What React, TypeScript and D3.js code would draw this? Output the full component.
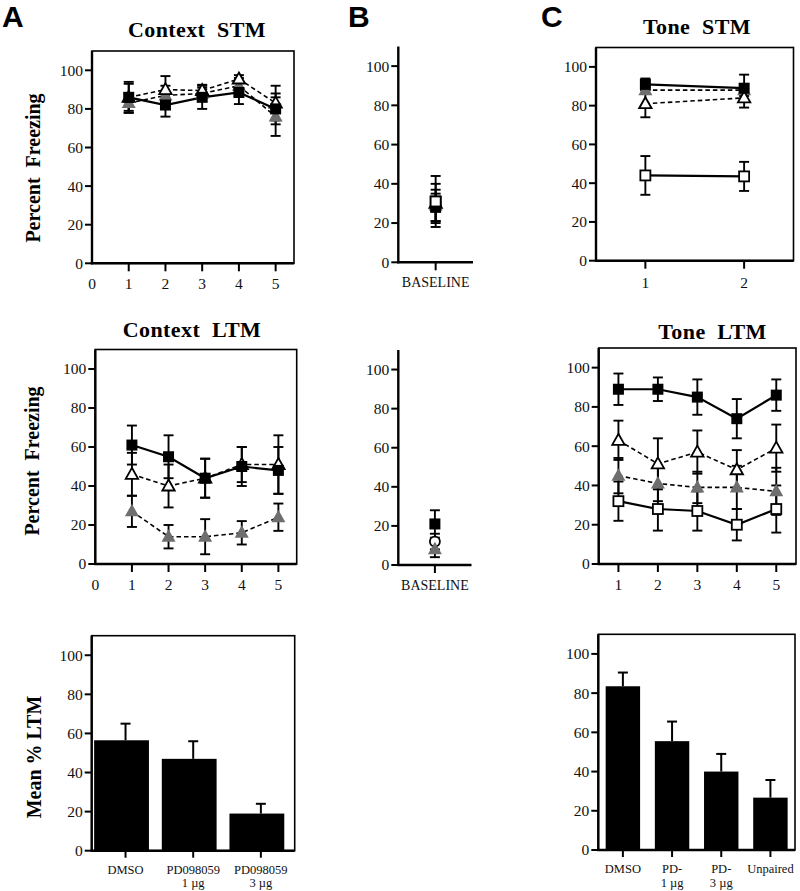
import React from 'react';
import * as d3 from 'd3';

// ---------------- data ----------------
const yTickValues = [0, 20, 40, 60, 80, 100];
const sessionX = [1, 2, 3, 4, 5];
const contextXTicks = [0, 1, 2, 3, 4, 5];
const toneStmX = [1, 2];
const toneLtmXTicks = [1, 2, 3, 4, 5];
const baselineX = [1];

// Context STM
const ctxStmDmso = [86, 82, 86, 88.5, 80];
const ctxStmDmsoErr = [8, 6, 6, 6, 8];
const ctxStmPd1 = [86, 90, 89.5, 95.5, 83];
const ctxStmPd1Err = [7, 7, 3, 2, 9];
const ctxStmPd3 = [83, 87, 88, 92, 76];
const ctxStmPd3Err = [5, 5, 3, 4, 10];

// Baseline (STM)
const baseStmDmso = [28];
const baseStmDmsoErr = [7];
const baseStmPd1 = [30];
const baseStmPd1Err = [10];
const baseStmPd3 = [29];
const baseStmPd3Err = [8];
const baseStmUnp = [31];
const baseStmUnpErr = [13];

// Tone STM
const toneStmDmso = [91, 89];
const toneStmDmsoErr = [3, 7];
const toneStmPd1 = [81, 84];
const toneStmPd1Err = [7, 5];
const toneStmPd3 = [88, 88];
const toneStmPd3Err = [2, 3];
const toneStmUnp = [44, 43.5];
const toneStmUnpErr = [10, 7.5];

// Context LTM
const ctxLtmDmso = [61, 55, 44, 50, 48];
const ctxLtmDmsoErr = [10, 11, 10, 10, 12];
const ctxLtmPd1 = [46, 40, 44, 51, 51];
const ctxLtmPd1Err = [11, 11, 10, 9, 15];
const ctxLtmPd3 = [27, 14, 14, 16, 24];
const ctxLtmPd3Err = [8, 6, 9, 6, 7];

// Baseline (LTM)
const baseLtmDmso = [21];
const baseLtmDmsoErr = [7];
const baseLtmPd1 = [12];
const baseLtmPd1Err = [4];
const baseLtmPd3 = [8];
const baseLtmPd3Err = [4];

// Tone LTM
const toneLtmDmso = [89, 89, 85, 74, 86];
const toneLtmDmsoErr = [8, 6, 9, 10, 8];
const toneLtmPd1 = [63, 51, 57, 48, 59];
const toneLtmPd1Err = [10, 13, 11, 10, 12];
const toneLtmPd3 = [45, 41, 39, 39, 37];
const toneLtmPd3Err = [9, 9, 8, 11, 12];
const toneLtmUnp = [32, 28, 27, 20, 28];
const toneLtmUnpErr = [10, 11, 10, 8, 12];

// Mean LTM bars
const ctxBarLabels = ['DMSO', 'PD098059\n1 µg', 'PD098059\n3 µg'];
const ctxBarValues = [56.5, 47, 19];
const ctxBarErr = [8.5, 9, 5];
const toneBarLabels = ['DMSO', 'PD-\n1 µg', 'PD-\n3 µg', 'Unpaired'];
const toneBarValues = [83.5, 55.5, 40, 26.7];
const toneBarErr = [7, 10, 9, 9];

// ---------------- drawing ----------------
const GRAY = '#6e6e6e';
const SERIF = '"Liberation Serif", "Times New Roman", Times, serif';
const SANS = '"Liberation Sans", Arial, Helvetica, sans-serif';

type Series = { shape: string; dashed?: boolean; xs: number[]; ys: number[]; es: number[] };

function Marker({ shape, cx, cy }: { shape: string; cx: number; cy: number }) {
  if (shape === 'fsq') return <rect x={cx - 5.5} y={cy - 5.5} width={11} height={11} fill="#000" />;
  if (shape === 'osq')
    return <rect x={cx - 5} y={cy - 5} width={10} height={10} fill="#fff" stroke="#000" strokeWidth={1.8} />;
  if (shape === 'otri')
    return (
      <path
        d={`M${cx},${cy - 6.5}L${cx + 6.2},${cy + 4.5}L${cx - 6.2},${cy + 4.5}Z`}
        fill="#fff"
        stroke="#000"
        strokeWidth={1.8}
      />
    );
  if (shape === 'gtri')
    return <path d={`M${cx},${cy - 7.5}L${cx + 7},${cy + 5}L${cx - 7},${cy + 5}Z`} fill={GRAY} />;
  return <circle cx={cx} cy={cy} r={5} fill="#fff" stroke="#000" strokeWidth={1.8} />;
}

function YTicks({ y, left }: { y: d3.ScaleLinear<number, number>; left: number }) {
  return (
    <g>
      {yTickValues.map((v) => (
        <g key={v}>
          <line x1={left - 7} x2={left} y1={y(v)} y2={y(v)} stroke="#000" strokeWidth={2} />
          <text
            x={left - 9}
            y={y(v)}
            dy="0.35em"
            textAnchor="end"
            fontFamily={SERIF}
            fontSize={15.5}
            fill="#111"
          >
            {v}
          </text>
        </g>
      ))}
    </g>
  );
}

function Title({ x, y, text }: { x: number; y: number; text: string }) {
  return (
    <text
      x={x}
      y={y}
      textAnchor="middle"
      fontFamily={SERIF}
      fontWeight="bold"
      fontSize={22}
      letterSpacing={0.4}
      style={{ whiteSpace: 'pre' }}
      fill="#000"
    >
      {text}
    </text>
  );
}

function YLabel({ x, y, text }: { x: number; y: number; text: string }) {
  return (
    <text
      transform={`translate(${x},${y}) rotate(-90)`}
      textAnchor="middle"
      fontFamily={SERIF}
      fontWeight="bold"
      fontSize={20}
      style={{ whiteSpace: 'pre' }}
      fill="#000"
    >
      {text}
    </text>
  );
}

type LineProps = {
  left: number;
  right: number;
  y0: number;
  y110: number;
  xDomain: [number, number];
  xTicks: number[];
  xLabels: string[];
  boxed: boolean;
  series: Series[];
  labelSize?: number;
  labelOffset?: number;
};

function LinePanel(p: LineProps) {
  const x = d3.scaleLinear().domain(p.xDomain).range([p.left, p.right]);
  const y = d3.scaleLinear().domain([0, 110]).range([p.y0, p.y110]);
  return (
    <g>
      {p.series.map((s, i) => {
        const line = d3
          .line<number>()
          .x((_, j) => x(s.xs[j]))
          .y((d) => y(d));
        return (
          <path
            key={'l' + i}
            d={line(s.ys) || ''}
            fill="none"
            stroke="#000"
            strokeWidth={s.dashed ? 1.6 : 2.2}
            strokeDasharray={s.dashed ? '4.5,3' : undefined}
          />
        );
      })}
      {p.series.map((s, i) =>
        s.ys.map((v, j) => {
          const cx = x(s.xs[j]);
          const yt = y(v + s.es[j]);
          const yb = y(v - s.es[j]);
          return (
            <g key={'e' + i + '-' + j} stroke="#000" strokeWidth={1.9}>
              <line x1={cx} x2={cx} y1={yt} y2={yb} />
              <line x1={cx - 5} x2={cx + 5} y1={yt} y2={yt} />
              <line x1={cx - 5} x2={cx + 5} y1={yb} y2={yb} />
            </g>
          );
        })
      )}
      {p.series.map((s, i) =>
        s.ys.map((v, j) => <Marker key={'m' + i + '-' + j} shape={s.shape} cx={x(s.xs[j])} cy={y(v)} />)
      )}
      {p.boxed && (
        <rect
          x={p.left}
          y={p.y110}
          width={p.right - p.left}
          height={p.y0 - p.y110}
          fill="none"
          stroke="#000"
          strokeWidth={1.6}
        />
      )}
      <line x1={p.left} x2={p.left} y1={p.y0 + 1} y2={p.y110} stroke="#000" strokeWidth={2.4} />
      <line x1={p.left - 1} x2={p.right} y1={p.y0} y2={p.y0} stroke="#000" strokeWidth={2.4} />
      <YTicks y={y} left={p.left} />
      {p.xTicks.map((t, i) => (
        <g key={'xt' + i}>
          {t !== p.xDomain[0] && (
            <line x1={x(t)} x2={x(t)} y1={p.y0} y2={p.y0 + 8} stroke="#000" strokeWidth={2} />
          )}
          <text
            x={x(t)}
            y={p.y0 + (p.labelOffset ?? 26)}
            textAnchor="middle"
            fontFamily={SERIF}
            fontSize={p.labelSize ?? 15.5}
            fill="#111"
          >
            {p.xLabels[i]}
          </text>
        </g>
      ))}
    </g>
  );
}

type BarProps = {
  left: number;
  right: number;
  y0: number;
  y110: number;
  labels: string[];
  values: number[];
  errs: number[];
  padInner: number;
  shift: number;
  labelOffset: number;
};

function BarPanel(p: BarProps) {
  const x = d3
    .scaleBand<string>()
    .domain(p.labels)
    .range([p.left, p.right])
    .paddingInner(p.padInner)
    .paddingOuter(p.padInner / 2);
  const y = d3.scaleLinear().domain([0, 110]).range([p.y0, p.y110]);
  const bw = x.bandwidth();
  return (
    <g>
      {p.labels.map((c, i) => {
        const cx = (x(c) as number) + bw / 2;
        const top = y(p.values[i]);
        const et = y(p.values[i] + p.errs[i]);
        return (
          <g key={c}>
            <line x1={cx} x2={cx} y1={top} y2={et} stroke="#000" strokeWidth={2} />
            <line x1={cx - 5} x2={cx + 5} y1={et} y2={et} stroke="#000" strokeWidth={2} />
            <rect x={(x(c) as number) + p.shift} y={top} width={bw} height={p.y0 - top} fill="#000" />
            <line x1={cx} x2={cx} y1={p.y0} y2={p.y0 + 7} stroke="#000" strokeWidth={2} />
            <text textAnchor="middle" fontFamily={SERIF} fontSize={12.5} fill="#111">
              {c.split('\n').map((ln, k) => (
                <tspan key={k} x={cx} y={p.y0 + p.labelOffset + k * 13.5}>
                  {ln}
                </tspan>
              ))}
            </text>
          </g>
        );
      })}
      <rect
        x={p.left}
        y={p.y110}
        width={p.right - p.left}
        height={p.y0 - p.y110}
        fill="none"
        stroke="#000"
        strokeWidth={1.6}
      />
      <line x1={p.left} x2={p.left} y1={p.y0 + 1} y2={p.y110} stroke="#000" strokeWidth={2.4} />
      <line x1={p.left - 1} x2={p.right} y1={p.y0} y2={p.y0} stroke="#000" strokeWidth={2.4} />
      <YTicks y={y} left={p.left} />
    </g>
  );
}

function PanelLetter({ x, y, text }: { x: number; y: number; text: string }) {
  return (
    <text x={x} y={y} fontFamily={SANS} fontWeight="bold" fontSize={30} fill="#000">
      {text}
    </text>
  );
}

export default function App() {
  const ctxStm: Series[] = [
    { shape: 'gtri', dashed: true, xs: sessionX, ys: ctxStmPd3, es: ctxStmPd3Err },
    { shape: 'otri', dashed: true, xs: sessionX, ys: ctxStmPd1, es: ctxStmPd1Err },
    { shape: 'fsq', xs: sessionX, ys: ctxStmDmso, es: ctxStmDmsoErr },
  ];
  const baseStm: Series[] = [
    { shape: 'osq', xs: baselineX, ys: baseStmUnp, es: baseStmUnpErr },
    { shape: 'gtri', xs: baselineX, ys: baseStmPd3, es: baseStmPd3Err },
    { shape: 'otri', xs: baselineX, ys: baseStmPd1, es: baseStmPd1Err },
    { shape: 'fsq', xs: baselineX, ys: baseStmDmso, es: baseStmDmsoErr },
    { shape: 'osq', xs: baselineX, ys: baseStmUnp, es: [0] },
  ];
  const toneStm: Series[] = [
    { shape: 'osq', xs: toneStmX, ys: toneStmUnp, es: toneStmUnpErr },
    { shape: 'gtri', dashed: true, xs: toneStmX, ys: toneStmPd3, es: toneStmPd3Err },
    { shape: 'otri', dashed: true, xs: toneStmX, ys: toneStmPd1, es: toneStmPd1Err },
    { shape: 'fsq', xs: toneStmX, ys: toneStmDmso, es: toneStmDmsoErr },
  ];
  const ctxLtm: Series[] = [
    { shape: 'gtri', dashed: true, xs: sessionX, ys: ctxLtmPd3, es: ctxLtmPd3Err },
    { shape: 'otri', dashed: true, xs: sessionX, ys: ctxLtmPd1, es: ctxLtmPd1Err },
    { shape: 'fsq', xs: sessionX, ys: ctxLtmDmso, es: ctxLtmDmsoErr },
  ];
  const baseLtm: Series[] = [
    { shape: 'ocirc', xs: baselineX, ys: baseLtmPd1, es: baseLtmPd1Err },
    { shape: 'gtri', xs: baselineX, ys: baseLtmPd3, es: baseLtmPd3Err },
    { shape: 'fsq', xs: baselineX, ys: baseLtmDmso, es: baseLtmDmsoErr },
  ];
  const toneLtm: Series[] = [
    { shape: 'osq', xs: sessionX, ys: toneLtmUnp, es: toneLtmUnpErr },
    { shape: 'gtri', dashed: true, xs: sessionX, ys: toneLtmPd3, es: toneLtmPd3Err },
    { shape: 'otri', dashed: true, xs: sessionX, ys: toneLtmPd1, es: toneLtmPd1Err },
    { shape: 'fsq', xs: sessionX, ys: toneLtmDmso, es: toneLtmDmsoErr },
  ];

  return (
    <svg
      width={800}
      height={891}
      viewBox="0 0 800 891"
      style={{ position: 'absolute', left: 0, top: 0, background: '#fff' }}
    >
      <rect x={0} y={0} width={800} height={891} fill="#fff" />
      <PanelLetter x={2} y={27} text="A" />
      <PanelLetter x={348} y={27} text="B" />
      <PanelLetter x={541} y={27} text="C" />

      {/* Row 1 */}
      <Title x={197} y={37} text="Context  STM" />
      <YLabel x={40} y={168} text="Percent  Freezing" />
      <LinePanel
        left={92}
        right={294}
        y0={263.3}
        y110={51}
        xDomain={[0, 5.5]}
        xTicks={contextXTicks}
        xLabels={contextXTicks.map(String)}
        boxed
        series={ctxStm}
      />
      <LinePanel
        left={398.3}
        right={473}
        y0={262.3}
        y110={46.5}
        xDomain={[0, 2]}
        xTicks={baselineX}
        xLabels={['BASELINE']}
        boxed={false}
        series={baseStm}
        labelSize={14}
        labelOffset={25}
      />
      <Title x={697} y={34} text="Tone  STM" />
      <LinePanel
        left={596}
        right={793.5}
        y0={260.7}
        y110={47.5}
        xDomain={[0.5, 2.5]}
        xTicks={toneStmX}
        xLabels={toneStmX.map(String)}
        boxed
        series={toneStm}
        labelOffset={27}
      />

      {/* Row 2 */}
      <Title x={192} y={337} text="Context  LTM" />
      <YLabel x={39} y={461} text="Percent  Freezing" />
      <LinePanel
        left={95.3}
        right={296.7}
        y0={564}
        y110={349.5}
        xDomain={[0, 5.5]}
        xTicks={contextXTicks}
        xLabels={contextXTicks.map(String)}
        boxed
        series={ctxLtm}
      />
      <LinePanel
        left={398.3}
        right={471.5}
        y0={565}
        y110={350}
        xDomain={[0, 2]}
        xTicks={baselineX}
        xLabels={['BASELINE']}
        boxed={false}
        series={baseLtm}
        labelSize={14}
        labelOffset={25}
      />
      <Title x={712.5} y={339} text="Tone  LTM" />
      <LinePanel
        left={598.7}
        right={796}
        y0={564}
        y110={348}
        xDomain={[0.5, 5.5]}
        xTicks={toneLtmXTicks}
        xLabels={toneLtmXTicks.map(String)}
        boxed
        series={toneLtm}
      />

      {/* Row 3 */}
      <YLabel x={41} y={757} text="Mean % LTM" />
      <BarPanel
        left={91.7}
        right={294.7}
        y0={850.7}
        y110={635.7}
        labels={ctxBarLabels}
        values={ctxBarValues}
        errs={ctxBarErr}
        padInner={0.19}
        shift={-4}
        labelOffset={23}
      />
      <BarPanel
        left={598.3}
        right={795}
        y0={850}
        y110={634.3}
        labels={toneBarLabels}
        values={toneBarValues}
        errs={toneBarErr}
        padInner={0.3}
        shift={0}
        labelOffset={23}
      />
    </svg>
  );
}
